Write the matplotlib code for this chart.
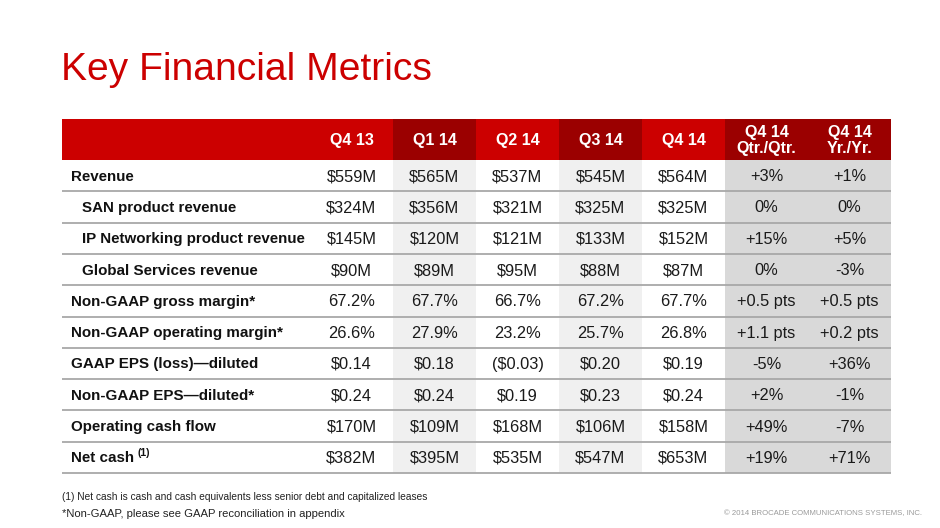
import matplotlib
matplotlib.use("Agg")
import matplotlib.pyplot as plt
from matplotlib import font_manager
from matplotlib.patches import Rectangle

# ---- data ----
periods = ["Q4 13", "Q1 14", "Q2 14", "Q3 14", "Q4 14", "Q4 14\nQtr./Qtr.", "Q4 14\nYr./Yr."]
metrics = [
    "Revenue",
    "SAN product revenue",
    "IP Networking product revenue",
    "Global Services revenue",
    "Non-GAAP gross margin*",
    "Non-GAAP operating margin*",
    "GAAP EPS (loss)\u2014diluted",
    "Non-GAAP EPS\u2014diluted*",
    "Operating cash flow",
    "Net cash",
]
indented = [False, True, True, True, False, False, False, False, False, False]
values = [
    ["$559M", "$565M", "$537M", "$545M", "$564M", "+3%", "+1%"],
    ["$324M", "$356M", "$321M", "$325M", "$325M", "0%", "0%"],
    ["$145M", "$120M", "$121M", "$133M", "$152M", "+15%", "+5%"],
    ["$90M", "$89M", "$95M", "$88M", "$87M", "0%", "-3%"],
    ["67.2%", "67.7%", "66.7%", "67.2%", "67.7%", "+0.5 pts", "+0.5 pts"],
    ["26.6%", "27.9%", "23.2%", "25.7%", "26.8%", "+1.1 pts", "+0.2 pts"],
    ["$0.14", "$0.18", "($0.03)", "$0.20", "$0.19", "-5%", "+36%"],
    ["$0.24", "$0.24", "$0.19", "$0.23", "$0.24", "+2%", "-1%"],
    ["$170M", "$109M", "$168M", "$106M", "$158M", "+49%", "-7%"],
    ["$382M", "$395M", "$535M", "$547M", "$653M", "+19%", "+71%"],
]
footnotes = [
    "(1) Net cash is cash and cash equivalents less senior debt and capitalized leases",
    "*Non-GAAP, please see GAAP reconciliation in appendix",
]
copyright_text = "\u00a9 2014 BROCADE COMMUNICATIONS SYSTEMS, INC."

# ---- style ----
RED = "#cc0000"
DARK_RED = "#9b0000"
header_colors = [RED, DARK_RED, RED, DARK_RED, RED, DARK_RED, DARK_RED]
body_colors = ["white", "#f0f0f0", "white", "#f0f0f0", "white", "#d9d9d9", "#d9d9d9"]
LINE = "#a8a8a8"
FONT = "Liberation Sans"

installed = {f.name for f in font_manager.fontManager.ttflist}
narrow = [f for f in ["Liberation Sans Narrow", "DejaVu Sans Condensed"] if f in installed]
NARROW = narrow[0] if narrow else FONT

fig = plt.figure(figsize=(9.4, 5.28), dpi=100)
ax = fig.add_axes([0, 0, 1, 1])
ax.set_xlim(0, 940)
ax.set_ylim(528, 0)
ax.axis("off")


def fit_width(t, target, boost=1.0):
    # scale a text so it spans about the target width in pixels
    fig.canvas.draw()
    w = t.get_window_extent().width
    t.set_fontsize(t.get_fontsize() * target / w * boost)


# layout in pixels
left, label_w, col_w = 62, 248, 83.0
head_top, head_h, row_h = 119, 41, 31.3
right = left + label_w + col_w * len(periods)

title = ax.text(left - 1, 80, "Key Financial Metrics", color=RED, fontsize=28.5,
                family=FONT, va="baseline", ha="left")
fit_width(title, 371)

# header
ax.add_patch(Rectangle((left, head_top), label_w, head_h, color=RED, lw=0))
for j, p in enumerate(periods):
    x0 = left + label_w + j * col_w
    ax.add_patch(Rectangle((x0, head_top), col_w, head_h, color=header_colors[j], lw=0))
    ax.text(x0 + col_w / 2, head_top + head_h / 2 + 1, p, color="white", fontsize=11.5,
            fontweight="bold", family=FONT, ha="center", va="center", linespacing=1.15)

# body
body_top = head_top + head_h
for i, m in enumerate(metrics):
    y0 = body_top + i * row_h
    yc = y0 + row_h / 2 + 1
    for j in range(len(periods)):
        x0 = left + label_w + j * col_w
        ax.add_patch(Rectangle((x0, y0), col_w, row_h, color=body_colors[j], lw=0))
        ax.text(x0 + col_w / 2, yc, values[i][j], color="#1a1a1a", fontsize=11.8,
                family=FONT, ha="center", va="center")
    lx = left + (20 if indented[i] else 9)
    t = ax.text(lx, yc, m, color="#111111", fontsize=10.9, fontweight="bold",
                family=FONT, ha="left", va="center")
    if m == "Net cash":
        fig.canvas.draw()
        bb = t.get_window_extent().transformed(ax.transData.inverted())
        ax.text(bb.x1 + 3, yc - 5, "(1)", color="#111111", fontsize=7.5,
                fontweight="bold", family=FONT, ha="left", va="center")
    ax.plot([left, right], [y0 + row_h, y0 + row_h], color=LINE, lw=1.3,
            solid_capstyle="butt")

# footnotes
f1 = ax.text(left, 497, footnotes[0], fontsize=8, family=NARROW, color="#222222", va="center")
f2 = ax.text(left, 514, footnotes[1], fontsize=9, family=NARROW, color="#222222", va="center")
cp = ax.text(922, 514, copyright_text, fontsize=6, family=NARROW, color="#9a9a9a",
             ha="right", va="center")
boost = 1.0 if narrow else 1.15
fit_width(f1, 318, boost)
fit_width(f2, 248, boost)
fit_width(cp, 198)

fig.savefig("out.png", dpi=100)
